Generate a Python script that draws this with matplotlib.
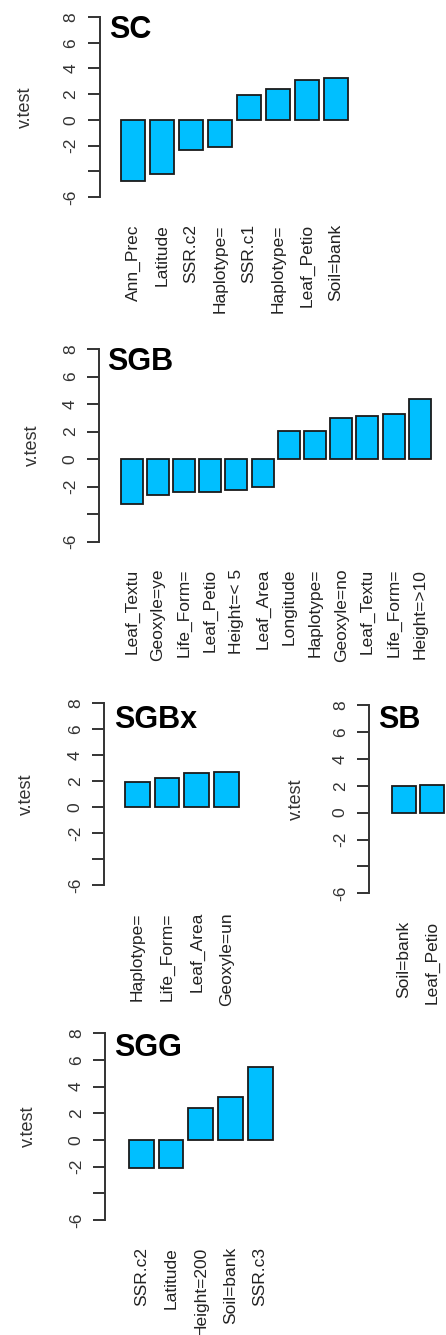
"""v.test barplots for the SC, SGB, SGBx, SB and SGG groups."""
import matplotlib.pyplot as plt
import numpy as np

plt.rcParams["font.family"] = ["Liberation Sans", "DejaVu Sans"]

W_PX, H_PX, DPI = 446, 1335, 100

yticks = [-6, -4, -2, 0, 2, 4, 6, 8]
ytick_labels = ["-6", "", "-2", "0", "2", "4", "6", "8"]

sc_labels = ["Ann_Prec", "Latitude", "SSR.c2", "Haplotype=", "SSR.c1",
             "Haplotype=", "Leaf_Petio", "Soil=bank"]
sc_vtest = [-4.73, -4.21, -2.38, -2.12, 1.96, 2.38, 3.10, 3.23]

sgb_labels = ["Leaf_Textu", "Geoxyle=ye", "Life_Form=", "Leaf_Petio",
              "Height=< 5", "Leaf_Area", "Longitude", "Haplotype=",
              "Geoxyle=no", "Leaf_Textu", "Life_Form=", "Height=>10"]
sgb_vtest = [-3.27, -2.64, -2.40, -2.40, -2.25, -1.99, 2.01, 2.01,
             3.00, 3.15, 3.27, 4.38]

sgbx_labels = ["Haplotype=", "Life_Form=", "Leaf_Area", "Geoxyle=un"]
sgbx_vtest = [1.95, 2.24, 2.60, 2.70]

sb_labels = ["Soil=bank", "Leaf_Petio"]
sb_vtest = [1.98, 2.08]

sgg_labels = ["SSR.c2", "Latitude", "Height=200", "Soil=bank", "SSR.c3"]
sgg_vtest = [-2.12, -2.12, 2.40, 3.25, 5.47]

# panel geometry in pixels: spine x, y of 8, y of -6, first bar left,
# bar slot, title left, title centre y, ylabel centre x
layout = {
    "SC":   (100.0, 17.0, 197.0, 121.0, 29.0, 109, 30, 25),
    "SGB":  (99.3, 349.0, 541.7, 120.7, 26.2, 107, 362, 32),
    "SGBx": (104.3, 703.3, 885.0, 125.0, 29.7, 114, 720, 26),
    "SB":   (369.3, 705.0, 893.3, 392.3, 28.0, 378, 720, 296),
    "SGG":  (105.3, 1033.3, 1220.0, 129.0, 29.7, 114, 1048, 28),
}

panels = [
    ("SC", sc_labels, sc_vtest),
    ("SGB", sgb_labels, sgb_vtest),
    ("SGBx", sgbx_labels, sgbx_vtest),
    ("SB", sb_labels, sb_vtest),
    ("SGG", sgg_labels, sgg_vtest),
]

fig = plt.figure(figsize=(W_PX / DPI, H_PX / DPI), dpi=DPI)

for name, labels, vals in panels:
    sx, ytop, ybot, bleft, slot, tx, ty, lx = layout[name]
    right = W_PX + 40
    ax = fig.add_axes([sx / W_PX, 1 - ybot / H_PX,
                       (right - sx) / W_PX, (ybot - ytop) / H_PX])
    ax.patch.set_alpha(0)

    # R barplot spacing: width 1, space 0.2
    u = slot / 1.2
    x0 = 0.2 - (bleft - sx) / u
    ax.set_xlim(x0, x0 + (right - sx) / u)
    ax.set_ylim(-6, 8)

    pos = 0.2 + 1.2 * np.arange(len(vals)) + 0.5
    ax.bar(pos, vals, width=1.0, color="#00BFFF", edgecolor="#1a1a1a",
           linewidth=1.3, zorder=2)

    for s in ("top", "right", "bottom"):
        ax.spines[s].set_visible(False)
    ax.spines["left"].set_color("#333333")
    ax.spines["left"].set_linewidth(1.4)

    ax.set_yticks(yticks)
    ax.set_yticklabels(ytick_labels, rotation=90, va="center",
                       fontsize=12.5, color="#333333")
    ax.tick_params(axis="y", length=8.5, width=1.4, color="#333333", pad=7)

    ax.set_xticks(pos)
    ax.set_xticklabels(labels, rotation=90, fontsize=12.5, color="#222222")
    ax.tick_params(axis="x", length=0, pad=19.5)

    ax.set_ylabel("v.test", fontsize=13, color="#333333", va="center")
    ax.yaxis.set_label_coords((lx - sx) / (right - sx), 0.5)

    fig.text(tx / W_PX, 1 - ty / H_PX, name, fontsize=22,
             fontweight="bold", ha="left", va="center", color="black")

fig.savefig("out.png", dpi=DPI)
